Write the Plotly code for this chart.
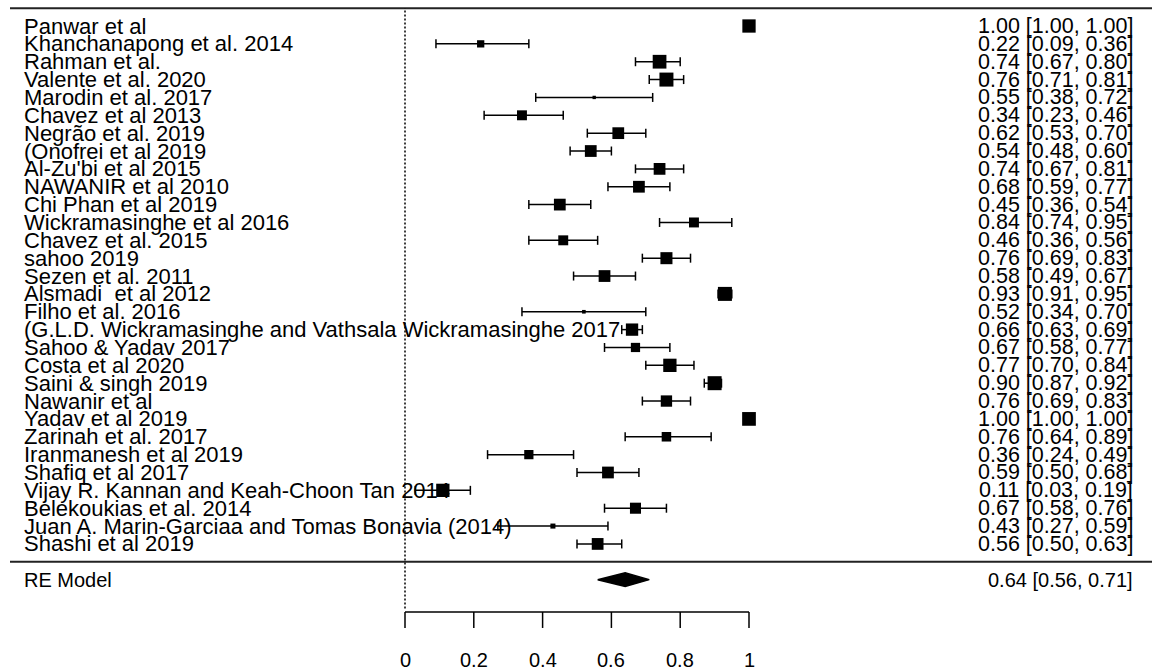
import plotly.graph_objects as go

# ---------------- data ----------------
studies = [
    "Panwar et al",
    "Khanchanapong et al. 2014",
    "Rahman et al.",
    "Valente et al. 2020",
    "Marodin et al. 2017",
    "Chavez et al 2013",
    "Negrão et al. 2019",
    "(Onofrei et al 2019",
    "Al-Zu'bi et al 2015",
    "NAWANIR et al 2010",
    "Chi Phan et al 2019",
    "Wickramasinghe et al 2016",
    "Chavez et al. 2015",
    "sahoo 2019",
    "Sezen et al. 2011",
    "Alsmadi  et al 2012",
    "Filho et al. 2016",
    "(G.L.D. Wickramasinghe and Vathsala Wickramasinghe 2017",
    "Sahoo & Yadav 2017",
    "Costa et al 2020",
    "Saini & singh 2019",
    "Nawanir et al",
    "Yadav et al 2019",
    "Zarinah et al. 2017",
    "Iranmanesh et al 2019",
    "Shafiq et al 2017",
    "Vijay R. Kannan and Keah-Choon Tan 2014",
    "Belekoukias et al. 2014",
    "Juan A. Marin-Garciaa and Tomas Bonavia (2014)",
    "Shashi et al 2019",
]
estimate = [1.00, 0.22, 0.74, 0.76, 0.55, 0.34, 0.62, 0.54, 0.74, 0.68,
            0.45, 0.84, 0.46, 0.76, 0.58, 0.93, 0.52, 0.66, 0.67, 0.77,
            0.90, 0.76, 1.00, 0.76, 0.36, 0.59, 0.11, 0.67, 0.43, 0.56]
ci_lower = [1.00, 0.09, 0.67, 0.71, 0.38, 0.23, 0.53, 0.48, 0.67, 0.59,
            0.36, 0.74, 0.36, 0.69, 0.49, 0.91, 0.34, 0.63, 0.58, 0.70,
            0.87, 0.69, 1.00, 0.64, 0.24, 0.50, 0.03, 0.58, 0.27, 0.50]
ci_upper = [1.00, 0.36, 0.80, 0.81, 0.72, 0.46, 0.70, 0.60, 0.81, 0.77,
            0.54, 0.95, 0.56, 0.83, 0.67, 0.95, 0.70, 0.69, 0.77, 0.84,
            0.92, 0.83, 1.00, 0.89, 0.49, 0.68, 0.19, 0.76, 0.59, 0.63]
weights = [0.95, 0.52, 0.98, 1.00, 0.24, 0.71, 0.84, 0.84, 0.84, 0.84,
           0.84, 0.71, 0.71, 0.86, 0.84, 1.00, 0.26, 0.88, 0.66, 0.95,
           1.00, 0.81, 0.98, 0.68, 0.66, 0.84, 0.95, 0.79, 0.36, 0.84]
re_label = "RE Model"
re_estimate = 0.64
re_lower = 0.56
re_upper = 0.71
tick_values = [0, 0.2, 0.4, 0.6, 0.8, 1]
tick_labels = ["0", "0.2", "0.4", "0.6", "0.8", "1"]

# ---------------- layout constants ----------------
W, H = 1152, 671
FONT = "Arial, 'Liberation Sans', sans-serif"
k = len(studies)
rows = [k - i for i in range(k)]          # metafor-style rows k..1
re_row = -1
axis_row = -2.81
X_RANGE = [-1.1773, 2.1715]
Y_RANGE = [-6.115, 31.456]
ROW_PX = H / (Y_RANGE[1] - Y_RANGE[0])
LABEL_X = -1.1135
TEXT_X = 2.1226
SQ_MAX = 14
CAP = 4.5 / ROW_PX
TICK_LEN = 16 / ROW_PX
tick_label_row = axis_row - 48 / ROW_PX


def fmt(e, l, u):
    return f"{e:.2f} [{l:.2f}, {u:.2f}]"


fig = go.Figure()

# CI lines
ci_x, ci_y, cap_x, cap_y = [], [], [], []
for r, l, u in zip(rows, ci_lower, ci_upper):
    ci_x += [l, u, None]
    ci_y += [r, r, None]
    cap_x += [l, l, None, u, u, None]
    cap_y += [r - CAP, r + CAP, None, r - CAP, r + CAP, None]
fig.add_trace(go.Scatter(x=ci_x, y=ci_y, mode="lines",
                         line=dict(color="black", width=1.5),
                         hoverinfo="skip", showlegend=False))
fig.add_trace(go.Scatter(x=cap_x, y=cap_y, mode="lines",
                         line=dict(color="black", width=1.5),
                         hoverinfo="skip", showlegend=False))

# study squares
fig.add_trace(go.Scatter(
    x=estimate, y=rows, mode="markers",
    marker=dict(symbol="square", color="black", opacity=1,
                size=[SQ_MAX * w for w in weights], line=dict(width=0)),
    hoverinfo="skip", showlegend=False,
))

# RE diamond
dh = 0.38
fig.add_trace(go.Scatter(
    x=[re_lower, re_estimate, re_upper, re_estimate, re_lower],
    y=[re_row, re_row + dh, re_row, re_row - dh, re_row],
    mode="lines", fill="toself", fillcolor="black",
    line=dict(color="black", width=1.5), hoverinfo="skip", showlegend=False,
))

# bottom axis: line + ticks
fig.add_trace(go.Scatter(x=[tick_values[0], tick_values[-1]], y=[axis_row, axis_row],
                         mode="lines", line=dict(color="black", width=1.5),
                         hoverinfo="skip", showlegend=False))
tx, ty = [], []
for t in tick_values:
    tx += [t, t, None]
    ty += [axis_row, axis_row - TICK_LEN, None]
fig.add_trace(go.Scatter(x=tx, y=ty, mode="lines",
                         line=dict(color="black", width=1.5),
                         hoverinfo="skip", showlegend=False))

annotations = []
for lab, r, e, l, u in zip(studies, rows, estimate, ci_lower, ci_upper):
    annotations.append(dict(x=LABEL_X, y=r, xref="x", yref="y", text=lab,
                            xanchor="left", yanchor="middle", showarrow=False,
                            font=dict(family=FONT, size=22, color="black")))
    annotations.append(dict(x=TEXT_X, y=r, xref="x", yref="y", text=fmt(e, l, u),
                            xanchor="right", yanchor="middle", showarrow=False,
                            font=dict(family=FONT, size=21.5, color="black")))
annotations.append(dict(x=LABEL_X, y=re_row, xref="x", yref="y", text=re_label,
                        xanchor="left", yanchor="middle", showarrow=False,
                        font=dict(family=FONT, size=20, color="black")))
annotations.append(dict(x=TEXT_X, y=re_row, xref="x", yref="y",
                        text=fmt(re_estimate, re_lower, re_upper),
                        xanchor="right", yanchor="middle", showarrow=False,
                        font=dict(family=FONT, size=20, color="black")))
for t, lab in zip(tick_values, tick_labels):
    annotations.append(dict(x=t, y=tick_label_row, xref="x", yref="y", text=lab,
                            xanchor="center", yanchor="middle", showarrow=False,
                            font=dict(family=FONT, size=20, color="black")))

shapes = [
    # top border
    dict(type="line", xref="paper", yref="y", x0=10 / W, x1=1, y0=k + 1, y1=k + 1,
         line=dict(color="#222222", width=2)),
    # separator
    dict(type="line", xref="paper", yref="y", x0=10 / W, x1=1, y0=0, y1=0,
         line=dict(color="#222222", width=2)),
    # reference line at 0
    dict(type="line", xref="x", yref="y", x0=0, x1=0, y0=axis_row + 0.2, y1=k + 1,
         line=dict(color="black", width=1.5, dash="2px,2px")),
]

fig.update_layout(
    width=W, height=H,
    margin=dict(l=0, r=0, t=0, b=0),
    paper_bgcolor="white", plot_bgcolor="white",
    showlegend=False,
    xaxis=dict(range=X_RANGE, visible=False, fixedrange=True),
    yaxis=dict(range=Y_RANGE, visible=False, fixedrange=True),
    annotations=annotations,
    shapes=shapes,
)

fig.write_html("out.html")
